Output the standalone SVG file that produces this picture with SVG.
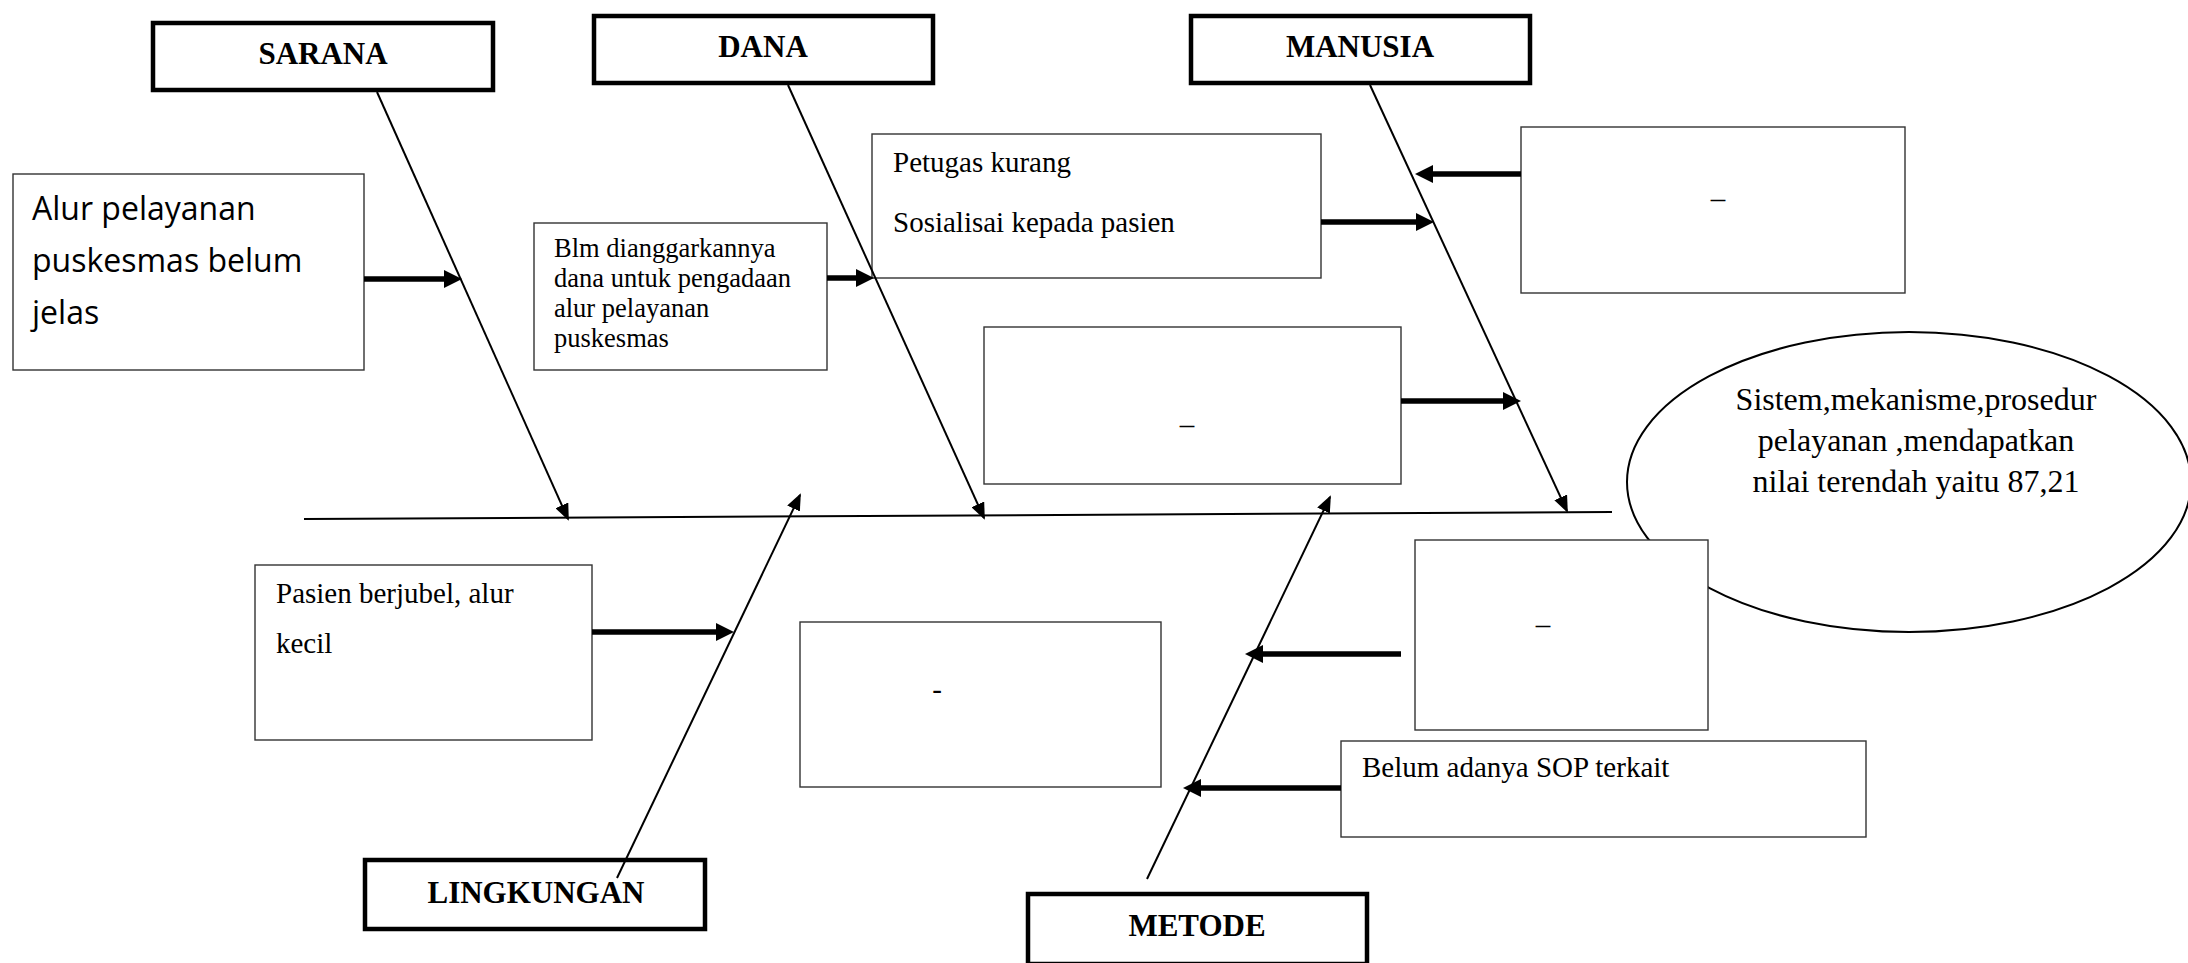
<svg xmlns="http://www.w3.org/2000/svg" width="2188" height="963" viewBox="0 0 2188 963">
<style>
.hdr{fill:#fff;stroke:#000;stroke-width:4.5}
.box{fill:#fff;stroke:#333;stroke-width:1.4}
.htxt{font-family:"Liberation Serif","Times New Roman",serif;font-weight:bold;font-size:31px;text-anchor:middle;fill:#000}
.t{font-family:"Liberation Serif","Times New Roman",serif;font-size:29px;fill:#000}
.te{font-family:"Liberation Serif","Times New Roman",serif;font-size:32px;fill:#000;text-anchor:middle}
.ts{font-family:"Liberation Serif","Times New Roman",serif;font-size:26.5px;fill:#000}
.sans{font-family:"Open Sans","Liberation Sans",sans-serif;font-size:32px;fill:#000}
.bone{stroke:#000;stroke-width:2;fill:none}
.thick{stroke:#000;stroke-width:5.5;fill:none}
</style>
<defs>
<marker id="hb" markerUnits="userSpaceOnUse" markerWidth="17" markerHeight="14" refX="15" refY="7" orient="auto"><path d="M0,0 L17,7 L0,14 z" fill="#000"/></marker>
<marker id="ht" markerUnits="userSpaceOnUse" markerWidth="18" markerHeight="18" refX="7" refY="9" orient="auto"><path d="M0,0 L18,9 L0,18 z" fill="#000"/></marker>
</defs>
<rect width="2188" height="963" fill="#fff"/>

<g id="effect">
<ellipse cx="1909" cy="482" rx="282" ry="150" fill="#fff" stroke="#000" stroke-width="2"/>
<text class="te" x="1916" y="410">Sistem,mekanisme,prosedur</text>
<text class="te" x="1916" y="451">pelayanan ,mendapatkan</text>
<text class="te" x="1916" y="492">nilai terendah yaitu 87,21</text>
</g>

<g id="sarana"><rect class="hdr" x="153" y="23" width="340" height="67"/><text class="htxt" x="323" y="64">SARANA</text></g>
<g id="dana"><rect class="hdr" x="594" y="16" width="339" height="67"/><text class="htxt" x="763" y="57">DANA</text></g>
<g id="manusia"><rect class="hdr" x="1191" y="16" width="339" height="67"/><text class="htxt" x="1360" y="57">MANUSIA</text></g>
<g id="lingkungan"><rect class="hdr" x="365" y="860" width="340" height="69"/><text class="htxt" x="536" y="903">LINGKUNGAN</text></g>
<g id="metode"><rect class="hdr" x="1028" y="894" width="339" height="70"/><text class="htxt" x="1197" y="936">METODE</text></g>

<g id="alur"><rect class="box" x="13" y="174" width="351" height="196"/>
<text class="sans" x="32" y="220">Alur pelayanan</text>
<text class="sans" x="32" y="272">puskesmas belum</text>
<text class="sans" x="32" y="324">jelas</text></g>

<g id="blm"><rect class="box" x="534" y="223" width="293" height="147"/>
<text class="ts" x="554" y="257">Blm dianggarkannya</text>
<text class="ts" x="554" y="287">dana untuk pengadaan</text>
<text class="ts" x="554" y="317">alur pelayanan</text>
<text class="ts" x="554" y="347">puskesmas</text></g>

<g id="petugas"><rect class="box" x="872" y="134" width="449" height="144"/>
<text class="t" x="893" y="172">Petugas kurang</text>
<text class="t" x="893" y="232">Sosialisai kepada pasien</text></g>

<g id="manusia2"><rect class="box" x="1521" y="127" width="384" height="166"/><text class="t" text-anchor="middle" x="1718" y="208">–</text></g>

<g id="mid"><rect class="box" x="984" y="327" width="417" height="157"/><text class="t" text-anchor="middle" x="1187" y="434">–</text></g>

<g id="pasien"><rect class="box" x="255" y="565" width="337" height="175"/>
<text class="t" x="276" y="603">Pasien berjubel, alur</text>
<text class="t" x="276" y="653">kecil</text></g>

<g id="lingk2"><rect class="box" x="800" y="622" width="361" height="165"/><text class="t" text-anchor="middle" x="937" y="699">-</text></g>

<g id="metode1"><rect class="box" x="1415" y="540" width="293" height="190"/><text class="t" font-size="22" text-anchor="middle" x="1543" y="634">–</text></g>

<g id="sop"><rect class="box" x="1341" y="741" width="525" height="96"/>
<text class="t" x="1362" y="777">Belum adanya SOP terkait</text></g>

<g id="connectors">
<line class="bone" x1="304" y1="519" x2="1612" y2="512"/>
<line class="bone" x1="377" y1="92" x2="568" y2="519" marker-end="url(#hb)"/>
<line class="bone" x1="788" y1="85" x2="984" y2="518" marker-end="url(#hb)"/>
<line class="bone" x1="1370" y1="85" x2="1567" y2="511" marker-end="url(#hb)"/>
<line class="bone" x1="617" y1="878" x2="800" y2="495" marker-end="url(#hb)"/>
<line class="bone" x1="1147" y1="879" x2="1330" y2="497" marker-end="url(#hb)"/>
<line class="thick" x1="364" y1="279" x2="451" y2="279" marker-end="url(#ht)"/>
<line class="thick" x1="827" y1="278" x2="863" y2="278" marker-end="url(#ht)"/>
<line class="thick" x1="1321" y1="222" x2="1423" y2="222" marker-end="url(#ht)"/>
<line class="thick" x1="1521" y1="174" x2="1426" y2="174" marker-end="url(#ht)"/>
<line class="thick" x1="1401" y1="401" x2="1510" y2="401" marker-end="url(#ht)"/>
<line class="thick" x1="592" y1="632" x2="723" y2="632" marker-end="url(#ht)"/>
<line class="thick" x1="1401" y1="654" x2="1256" y2="654" marker-end="url(#ht)"/>
<line class="thick" x1="1341" y1="788" x2="1194" y2="788" marker-end="url(#ht)"/>
</g>
</svg>
